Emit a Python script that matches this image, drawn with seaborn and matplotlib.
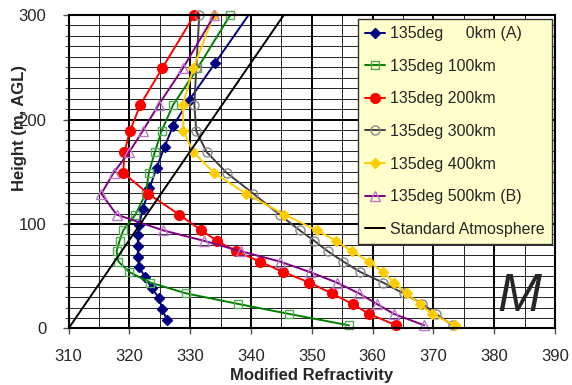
import matplotlib
matplotlib.use("Agg")
import matplotlib.pyplot as plt
import seaborn as sns
from matplotlib.ticker import MultipleLocator

# Modified refractivity profiles along the 135deg radial
heights_a = [8, 18.5, 29, 38.5, 49, 59, 68.5, 79, 89, 99, 114, 134, 154, 174, 194, 219, 254, 305]
heights = [3, 14, 23.5, 33.5, 44, 54, 64, 74, 84, 94, 109, 129, 149, 169, 189, 214, 249, 300]

m_0km = [326.2, 325.4, 324.9, 323.7, 322.6, 321.6, 321.4, 321.4, 321.4, 321.6,
         322.2, 323.3, 324.5, 325.8, 327.2, 329.9, 334.1, 340.2]
m_100km = [356.1, 346.2, 337.9, 329.4, 323.4, 320.0, 318.2, 317.9, 318.4, 319.0,
           321.0, 322.7, 323.2, 324.2, 325.3, 327.2, 331.2, 336.6]
m_200km = [363.9, 359.4, 356.7, 353.3, 349.6, 345.3, 341.5, 337.5, 334.4, 331.8,
           328.2, 323.1, 319.0, 319.2, 320.1, 321.8, 325.4, 330.7]
m_300km = [373.2, 370.4, 368.2, 365.1, 361.7, 358.0, 355.2, 352.6, 350.4, 348.0,
           344.7, 340.4, 336.0, 332.7, 331.0, 330.7, 331.0, 331.5]
m_400km = [373.6, 369.7, 367.8, 365.6, 363.5, 361.7, 359.4, 356.6, 354.0, 350.8,
           345.5, 339.2, 333.9, 330.5, 328.9, 328.8, 330.5, 333.9]
m_500km = [368.5, 363.5, 360.7, 357.8, 354.1, 349.7, 344.8, 338.3, 332.2, 325.5,
           317.9, 315.4, 317.4, 320.0, 322.2, 324.8, 328.8, 334.0]

# Standard atmosphere: M = 310 + 0.118 * h
std_heights = [0, 300]
std_m = [310.0, 345.4]

labels = ["135deg     0km (A)", "135deg 100km", "135deg 200km", "135deg 300km",
          "135deg 400km", "135deg 500km (B)", "Standard Atmosphere"]

x_ticks = [310, 320, 330, 340, 350, 360, 370, 380, 390]
y_ticks = [0, 100, 200, 300]

sns.set_style("white")
plt.rcParams['font.family'] = ['Liberation Sans', 'DejaVu Sans']

fig = plt.figure(figsize=(5.72, 3.85), dpi=100)
ax = fig.add_axes([0.1198, 0.1468, 0.8505, 0.8142])

series = [
    (m_0km, heights_a, dict(color="#000080", marker="D", markersize=5,
                            markerfacecolor="#000080", markeredgecolor="#000080", clip_on=True)),
    (m_100km, heights, dict(color="#008000", marker="s", markersize=6,
                            markerfacecolor="none", markeredgecolor="#55AA55", clip_on=False)),
    (m_200km, heights, dict(color="#FF0000", marker="o", markersize=7,
                            markerfacecolor="#FF0000", markeredgecolor="#FF0000", clip_on=False)),
    (m_300km, heights, dict(color="#404040", marker="o", markersize=6.5,
                            markerfacecolor="none", markeredgecolor="#888888", clip_on=False)),
    (m_400km, heights, dict(color="#FFCC00", marker="D", markersize=5,
                            markerfacecolor="#FFCC00", markeredgecolor="#FFCC00", clip_on=False)),
    (m_500km, heights, dict(color="#800080", marker="^", markersize=7,
                            markerfacecolor="none", markeredgecolor="#BB77CC", clip_on=False)),
]

for (m, h, style), lab in zip(series, labels[:6]):
    sns.lineplot(x=m, y=h, sort=False, estimator=None, ax=ax, label=lab,
                 linewidth=1.4, markeredgewidth=1.0, **style)

sns.lineplot(x=std_m, y=std_heights, sort=False, estimator=None, ax=ax,
             label=labels[6], color="black", linewidth=1.4)

ax.set_xlim(310, 390)
ax.set_ylim(0, 300)
ax.set_xticks(x_ticks)
ax.set_yticks(y_ticks)
ax.xaxis.set_minor_locator(MultipleLocator(5))
ax.yaxis.set_minor_locator(MultipleLocator(10))

ax.set_axisbelow(True)
ax.grid(which="major", color="black", linewidth=1.4)
ax.grid(which="minor", color="#222222", linewidth=0.7)

for sp in ax.spines.values():
    sp.set_color("black")
    sp.set_linewidth(1.5)

ax.tick_params(axis="x", which="major", direction="out", length=4, width=1,
               color="#555555", labelsize=12, pad=11, bottom=True)
ax.tick_params(axis="y", which="major", direction="out", length=4, width=1,
               color="#555555", labelsize=12, pad=12, left=True)
ax.tick_params(axis="x", which="minor", length=0)
ax.tick_params(axis="y", which="minor", direction="out", length=3, width=0.8,
               color="#555555", left=True)

ax.set_xlabel("Modified Refractivity", fontsize=12, fontweight="bold")
ax.set_ylabel("Height (m, AGL)", fontsize=12, fontweight="bold")
ax.xaxis.set_label_coords(0.5, -0.126)
ax.yaxis.set_label_coords(-0.085, 0.64)

leg = ax.legend(loc="upper right", bbox_to_anchor=(0.994, 0.987), borderaxespad=0,
                fontsize=11.5, handlelength=1.25, handletextpad=0.3, labelspacing=1.1,
                borderpad=0.45, fancybox=False, framealpha=1, numpoints=1)
leg.get_frame().set_facecolor("#FFFFCC")
leg.get_frame().set_edgecolor("#333333")
leg.get_frame().set_linewidth(1.0)

ax.text(384.2, 30.5, "M", fontsize=38, style="italic", ha="center", va="center")

fig.savefig("out.png", dpi=100)
